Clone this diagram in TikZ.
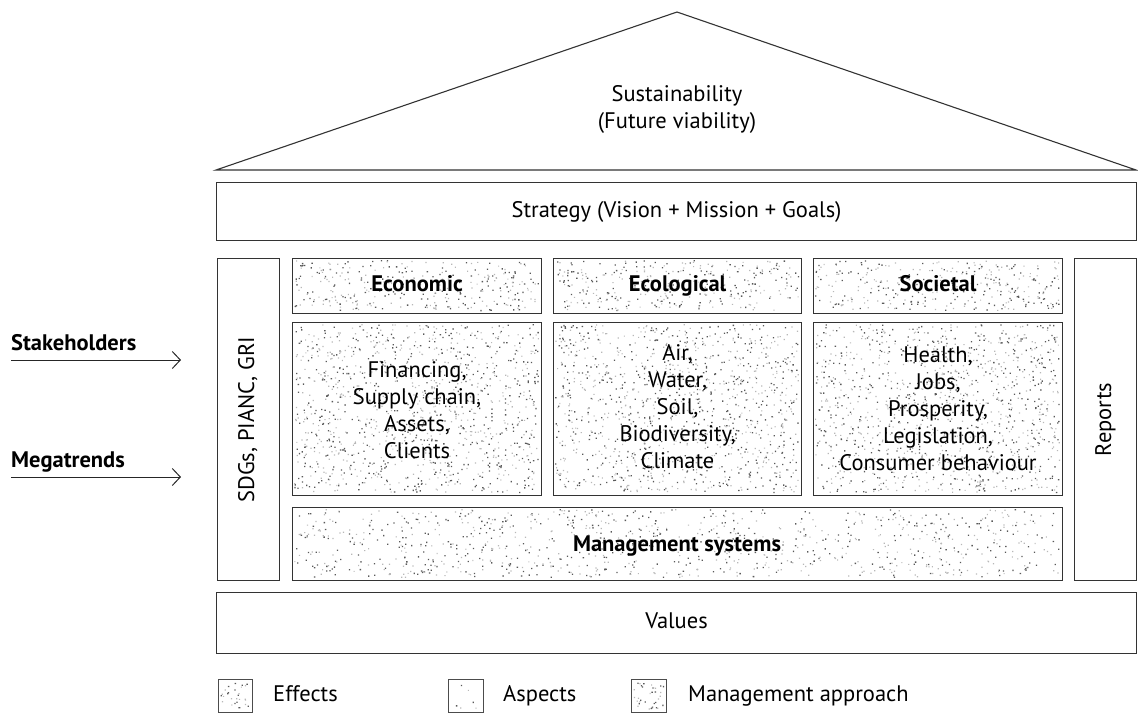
\documentclass[tikz,border=0pt]{standalone}
\usepackage{fontspec}
\setmainfont{PT Sans}
\usetikzlibrary{arrows.meta}
\tikzset{
  box/.style={draw=black!80, line width=1.1pt, inner sep=0pt, anchor=north west},
  lbl/.style={font=\fontsize{22.5}{27}\selectfont, align=center, inner sep=0pt},
  one/.style={text height=16pt, text depth=5pt},
  blbl/.style={font=\fontsize{22.5}{27}\selectfont\bfseries, align=center, inner sep=0pt},
  inarrow/.style={line width=1pt, draw=black!85, -{Straight Barb[length=8pt,width=17pt,line width=1pt]}},
}
\newcommand{\stip}[5]{% x1 y1 x2 y2 n
  \fill[black!65] \foreach \k in {1,...,#5}{
    ({#1+2+rnd*(#3-#1-5)},{#2+2+rnd*(#4-#2-5)}) rectangle ++(1.3,1.3)
  };
  \fill[black!28] \foreach \k in {1,...,#5}{
    ({#1+2+rnd*(#3-#1-5)},{#2+2+rnd*(#4-#2-5)}) rectangle ++(1.2,1.2)
  };
}
\begin{document}
\begin{tikzpicture}[x=1pt,y=-1pt]
\pgfmathsetseed{4711}
\useasboundingbox (0,0) rectangle (1138,713);

% roof
\coordinate (rl) at (216,170);
\coordinate (ra) at (677,12);
\coordinate (rr) at (1136,170);
\draw[line width=1.1pt, draw=black!80, line join=miter] (rl) -- (ra) -- (rr) -- cycle;
\node[lbl, one] (sus) at (677,96) {Sustainability};
\node[lbl, one] (fut) at (677,123) {(Future viability)};

% strategy
\node[box, minimum width=920pt, minimum height=58pt] (strat) at (216,182) {};
\node[lbl, one] (stratt) at (strat.center) {Strategy (Vision + Mission + Goals)};

% stipple fills
\stip{292}{258}{541}{313}{160}
\stip{553}{258}{801}{313}{160}
\stip{813}{258}{1062}{313}{160}
\stip{292}{322}{541}{495}{580}
\stip{553}{322}{801}{495}{580}
\stip{813}{322}{1062}{495}{580}
\stip{292}{507}{1062}{580}{480}

% side columns
\node[box, minimum width=62pt, minimum height=322pt] (sdg) at (217,258) {};
\node[lbl, one, rotate=90] (sdgt) at (sdg.center) {SDGs, PIANC, GRI};
\node[box, minimum width=62pt, minimum height=322pt] (rep) at (1074,258) {};
\node[lbl, one, rotate=90] (rept) at (rep.center) {Reports};

% headers
\node[box, minimum width=249pt, minimum height=55pt] (eco) at (292,258) {};
\node[blbl, one] (ecot) at (eco.center) {Economic};
\node[box, minimum width=248pt, minimum height=55pt] (ecl) at (553,258) {};
\node[blbl, one] (eclt) at (ecl.center) {Ecological};
\node[box, minimum width=249pt, minimum height=55pt] (soc) at (813,258) {};
\node[blbl, one] (soct) at (soc.center) {Societal};

% effects
\node[box, minimum width=249pt, minimum height=173pt] (ecoe) at (292,322) {};
\node[lbl] (ecoet) at ([yshift=-1pt]ecoe.center) {Financing,\\Supply chain,\\Assets,\\Clients};
\node[box, minimum width=248pt, minimum height=173pt] (ecle) at (553,322) {};
\node[lbl] (eclet) at ([yshift=2pt]ecle.center) {Air,\\Water,\\Soil,\\Biodiversity,\\Climate};
\node[box, minimum width=249pt, minimum height=173pt] (soce) at (813,322) {};
\node[lbl] (socet) at ([yshift=0pt]soce.center) {Health,\\Jobs,\\Prosperity,\\Legislation,\\Consumer behaviour};

% management systems
\node[box, minimum width=770pt, minimum height=73pt] (mgmt) at (292,507) {};
\node[blbl, one] (mgmtt) at (677,546) {Management systems};

% values
\node[box, minimum width=920pt, minimum height=61pt] (val) at (216,592) {};
\node[lbl, one] (valt) at (val.center) {Values};

% inputs
\node[blbl, anchor=base west] (stk) at (11,350) {Stakeholders};
\coordinate (stk0) at (11,360);
\coordinate (stk1) at (181,360);
\draw[inarrow] (stk0) -- (stk1);
\node[blbl, anchor=base west] (meg) at (11,467) {Megatrends};
\coordinate (meg0) at (11,477);
\coordinate (meg1) at (181,477);
\draw[inarrow] (meg0) -- (meg1);

% legend
\stip{218}{680}{252}{712}{14}
\node[box, draw=black!70, line width=0.9pt, minimum width=34pt, minimum height=33pt] (lg1) at (218,679) {};
\node[lbl, one, anchor=west] (lg1t) at (273,696) {Effects};
\stip{448}{680}{483}{712}{3}
\node[box, draw=black!70, line width=0.9pt, minimum width=35pt, minimum height=33pt] (lg2) at (448,679) {};
\node[lbl, one, anchor=west] (lg2t) at (503,696) {Aspects};
\stip{631}{680}{666}{712}{18}
\node[box, draw=black!70, line width=0.9pt, minimum width=35pt, minimum height=33pt] (lg3) at (631,679) {};
\node[lbl, one, anchor=west] (lg3t) at (688,696) {Management approach};
\end{tikzpicture}
\end{document}
